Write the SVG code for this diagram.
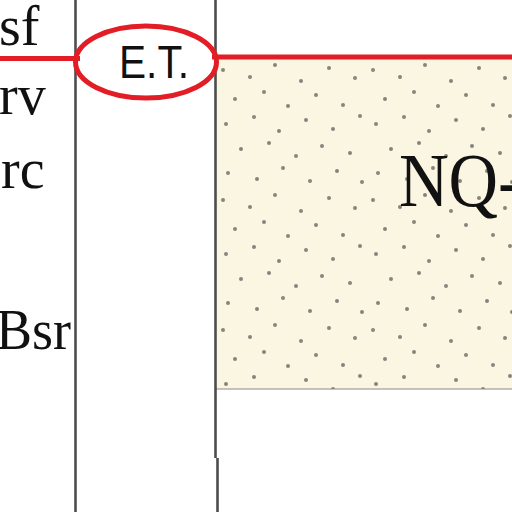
<svg xmlns="http://www.w3.org/2000/svg" width="512" height="512" viewBox="0 0 512 512">
  <style>
    .lbl { font-family: "Liberation Serif", "Times New Roman", serif; font-size: 56px; fill: #111; }
    .big { font-family: "Liberation Serif", "Times New Roman", serif; font-size: 77px; fill: #111; }
    .et { font-family: "Liberation Sans", Arial, sans-serif; font-size: 46px; fill: #111; }
    .vline { stroke: #4d4d4d; stroke-width: 2.6; fill: none; }
    .red { stroke: #e21d25; stroke-width: 5; fill: none; }
  </style>
  <defs>
    <pattern id="stipple" x="217" y="60" width="150" height="130" patternUnits="userSpaceOnUse">
      <g fill="#85857f">
        <circle cx="6" cy="10" r="2"/>
        <circle cx="33" cy="17" r="2"/>
        <circle cx="58" cy="5" r="2"/>
        <circle cx="84" cy="21" r="2"/>
        <circle cx="112" cy="8" r="2"/>
        <circle cx="138" cy="18" r="2"/>
        <circle cx="18" cy="39" r="2"/>
        <circle cx="47" cy="32" r="2"/>
        <circle cx="71" cy="46" r="2"/>
        <circle cx="99" cy="35" r="2"/>
        <circle cx="126" cy="45" r="2"/>
        <circle cx="9" cy="64" r="2"/>
        <circle cx="37" cy="57" r="2"/>
        <circle cx="62" cy="71" r="2"/>
        <circle cx="89" cy="60" r="2"/>
        <circle cx="116" cy="69" r="2"/>
        <circle cx="143" cy="56" r="2"/>
        <circle cx="24" cy="89" r="2"/>
        <circle cx="52" cy="83" r="2"/>
        <circle cx="79" cy="96" r="2"/>
        <circle cx="105" cy="86" r="2"/>
        <circle cx="133" cy="93" r="2"/>
        <circle cx="11" cy="113" r="2"/>
        <circle cx="40" cy="119" r="2"/>
        <circle cx="66" cy="108" r="2"/>
        <circle cx="93" cy="121" r="2"/>
        <circle cx="120" cy="111" r="2"/>
        <circle cx="145" cy="122" r="2"/>
      </g>
    </pattern>
  </defs>
  <rect width="512" height="512" fill="#ffffff"/>

  <g id="unit-NQ">
    <rect x="216" y="58" width="296" height="331" fill="#fbf6e1"/>
    <rect x="216" y="58" width="296" height="331" fill="url(#stipple)"/>
    <line x1="216" y1="389" x2="512" y2="389" stroke="#8a8a8a" stroke-width="1"/>
    <text class="big" transform="translate(399,206) scale(0.89,1)">NQ-</text>
  </g>

  <g id="columns">
    <line class="vline" x1="75.5" y1="0" x2="75.5" y2="512"/>
    <line class="vline" x1="215.5" y1="0" x2="215.5" y2="458"/>
    <line class="vline" x1="217.5" y1="458" x2="217.5" y2="512"/>
  </g>

  <g id="labels">
    <text class="lbl" x="-1" y="45">sf</text>
    <text class="lbl" x="-1" y="114">rv</text>
    <text class="lbl" x="1" y="188">rc</text>
    <text class="lbl" x="-4" y="349" textLength="75" lengthAdjust="spacingAndGlyphs">Bsr</text>
  </g>

  <g id="connectors">
    <line class="red" x1="0" y1="58.5" x2="80" y2="58.5"/>
    <line class="red" x1="212" y1="57" x2="512" y2="57"/>
  </g>

  <g id="node-ET">
    <ellipse cx="146" cy="62" rx="70.5" ry="36" fill="#f3f3f5" class="red"/>
    <text class="et" x="119" y="78" textLength="70" lengthAdjust="spacingAndGlyphs">E.T.</text>
  </g>
</svg>
